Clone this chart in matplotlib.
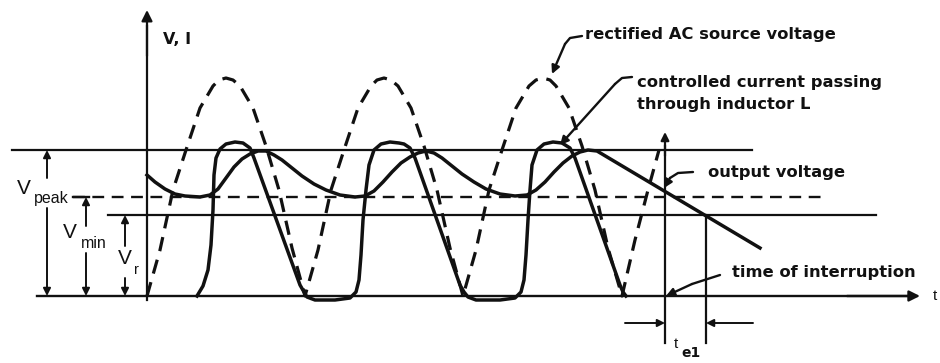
import matplotlib
matplotlib.use('Agg')
import matplotlib.pyplot as plt

# waveforms (t, v), origin at the axes crossing
ac_t = [0, 13, 26, 39, 53, 66, 72, 79, 86, 93, 106, 119, 132, 145, 158,
        171, 184, 197, 211, 224, 230, 237, 244, 251, 264, 277, 290, 303, 316,
        329, 342, 355, 369, 382, 389, 396, 403, 409, 422, 435, 448, 461, 475,
        488, 501, 512]
ac_v = [0, 46, 106, 146, 188, 210, 216, 218, 216, 210, 188, 150, 106, 48, 0,
        46, 106, 146, 188, 210, 216, 218, 216, 210, 188, 150, 106, 48, 0,
        46, 106, 146, 188, 210, 216, 218, 216, 210, 188, 150, 106, 48, 0,
        56, 106, 146]

cur_t = [50, 56, 61, 64, 66, 67, 69, 73, 79, 88, 96, 103, 107, 153, 157,
         160, 168, 188, 203, 209, 212, 214, 216, 219, 222, 227, 234, 243,
         252, 257, 263, 268, 313, 317, 321, 329, 353, 368, 374, 377, 379,
         381, 383, 385, 390, 397, 406, 415, 423, 428, 473, 476, 479]
cur_v = [0, 10, 26, 51, 86, 121, 138, 147, 152, 154, 153, 148, 138, 11, 4,
         -1, -4, -4, -2, 4, 16, 41, 76, 106, 131, 146, 152, 154,
         153, 152, 148, 138, 11, 4, -1, -4, -4, -2, 4, 16, 41,
         76, 106, 131, 146, 152, 154, 153, 148, 138, 11, 4, 0]

out_t = [0, 8, 18, 28, 38, 53, 63, 71, 79, 87, 95, 103, 111, 119, 127,
         135, 145, 155, 167, 179, 193, 208, 218, 227, 236, 245, 254, 263,
         271, 279, 287, 295, 305, 315, 327, 339, 353, 368, 380, 389, 398,
         407, 416, 425, 433, 441, 450, 613]
out_v = [121, 114, 107, 102, 100, 99, 101, 107, 118, 129, 137, 142, 145,
         145, 141, 136, 128, 120, 112, 106, 101, 99, 100, 105, 114, 124,
         133, 139, 143, 145, 143, 138, 130, 122, 114, 107, 102, 100, 101,
         106, 114, 124, 133, 140, 144, 146, 145, 48]

v_peak = 146
v_min = 99
v_r = 81
t_interrupt = 518
t_drop = 559

FONT = 'Liberation Sans'
BOLD = 'DejaVu Sans'
INK = '#111111'


def arrow(ax, x0, y0, x1, y1, lw=1.4, size=11):
  ax.annotate('', xy=(x1, y1), xytext=(x0, y0),
              arrowprops=dict(arrowstyle='-|>', color=INK, lw=lw,
                              mutation_scale=size, shrinkA=0, shrinkB=0))


def leader(ax, xs, ys):
  ax.plot(xs[:-1], ys[:-1], color=INK, lw=1.7, solid_capstyle='round')
  arrow(ax, xs[-2], ys[-2], xs[-1], ys[-1], lw=1.7, size=12)


def main():
  fig = plt.figure(figsize=(9.4, 3.63), dpi=100)
  ax = fig.add_axes([0, 0, 1, 1])
  ax.set_xlim(-147, 793)
  ax.set_ylim(-67, 296)
  ax.axis('off')

  # axes
  ax.plot([-110, 760], [0, 0], color=INK, lw=1.7)
  arrow(ax, 700, 0, 773, 0, lw=1.7, size=16)
  ax.plot([0, 0], [-4, 270], color=INK, lw=1.6)
  arrow(ax, 0, 240, 0, 286, lw=1.6, size=16)
  ax.text(16, 256, 'V, I', fontfamily=BOLD, fontweight='bold', fontsize=11.5,
          ha='left', va='center', color=INK)
  ax.text(786, 0, 't', fontfamily=FONT, fontsize=11, ha='left', va='center',
          color=INK)

  # reference levels
  ax.plot([-135, 605], [v_peak, v_peak], color=INK, lw=1.6)
  ax.plot([-74, 676], [v_min, v_min], color=INK, lw=1.7,
          linestyle=(0, (5, 3.2)))
  ax.plot([-39, 729], [v_r, v_r], color=INK, lw=1.6)

  # waveforms
  ax.plot(ac_t, ac_v, color=INK, lw=2.3, linestyle=(0, (4.5, 2.8)))
  ax.plot(cur_t, cur_v, color=INK, lw=2.5, solid_joinstyle='round')
  ax.plot(out_t, out_v, color=INK, lw=2.5, solid_joinstyle='round')

  # dimension arrows on the left
  arrow(ax, -100, 118, -100, v_peak)
  arrow(ax, -100, 88, -100, 0)
  ax.text(-123, 108, 'V', fontfamily=FONT, fontsize=15, ha='center',
          va='center', color=INK)
  ax.text(-96, 97, 'peak', fontfamily=FONT, fontsize=11.5, ha='center',
          va='center', color=INK)
  ax.plot([-74, -58], [v_min, v_min], color=INK, lw=1.7)
  arrow(ax, -61, 70, -61, v_min)
  arrow(ax, -61, 43, -61, 0)
  ax.text(-77, 63, 'V', fontfamily=FONT, fontsize=15, ha='center',
          va='center', color=INK)
  ax.text(-53, 53, 'min', fontfamily=FONT, fontsize=11.5, ha='center',
          va='center', color=INK)
  arrow(ax, -22, 50, -22, v_r)
  arrow(ax, -22, 18, -22, 0)
  ax.text(-22, 37, 'V', fontfamily=FONT, fontsize=15, ha='center',
          va='center', color=INK)
  ax.text(-11, 26, 'r', fontfamily=FONT, fontsize=10.5, ha='center',
          va='center', color=INK)

  # interruption markers
  ax.plot([t_interrupt, t_interrupt], [-47, 150], color=INK, lw=1.6)
  arrow(ax, t_interrupt, 140, t_interrupt, 164, lw=1.6, size=12)
  ax.plot([t_drop, t_drop], [v_r, -47], color=INK, lw=1.6)
  arrow(ax, 478, -27, t_interrupt, -27)
  arrow(ax, 606, -27, t_drop, -27)
  ax.text(529, -48, 't', fontfamily=FONT, fontsize=11, ha='center',
          va='center', color=INK)
  ax.text(544, -57, 'e1', fontfamily=BOLD, fontweight='bold', fontsize=10,
          ha='center', va='center', color=INK)

  # callouts
  lab = dict(fontfamily=BOLD, fontweight='bold', fontsize=11.8, color=INK,
             ha='left', va='center')
  ax.text(438, 261, 'rectified AC source voltage', **lab)
  leader(ax, [435, 423, 418, 405], [260, 258, 252, 222])
  ax.text(490, 214, 'controlled current passing', **lab)
  ax.text(490, 191, 'through inductor L', **lab)
  leader(ax, [485, 475, 468, 413], [219, 218, 212, 151])
  ax.text(561, 124, 'output voltage', **lab)
  leader(ax, [546, 531, 523, 517], [124, 123, 118, 108])
  ax.text(585, 23, 'time of interruption', **lab)
  leader(ax, [573, 545, 519], [21, 12, 0])

  fig.savefig('out.png', dpi=100, facecolor='white')


if __name__ == '__main__':
  main()
